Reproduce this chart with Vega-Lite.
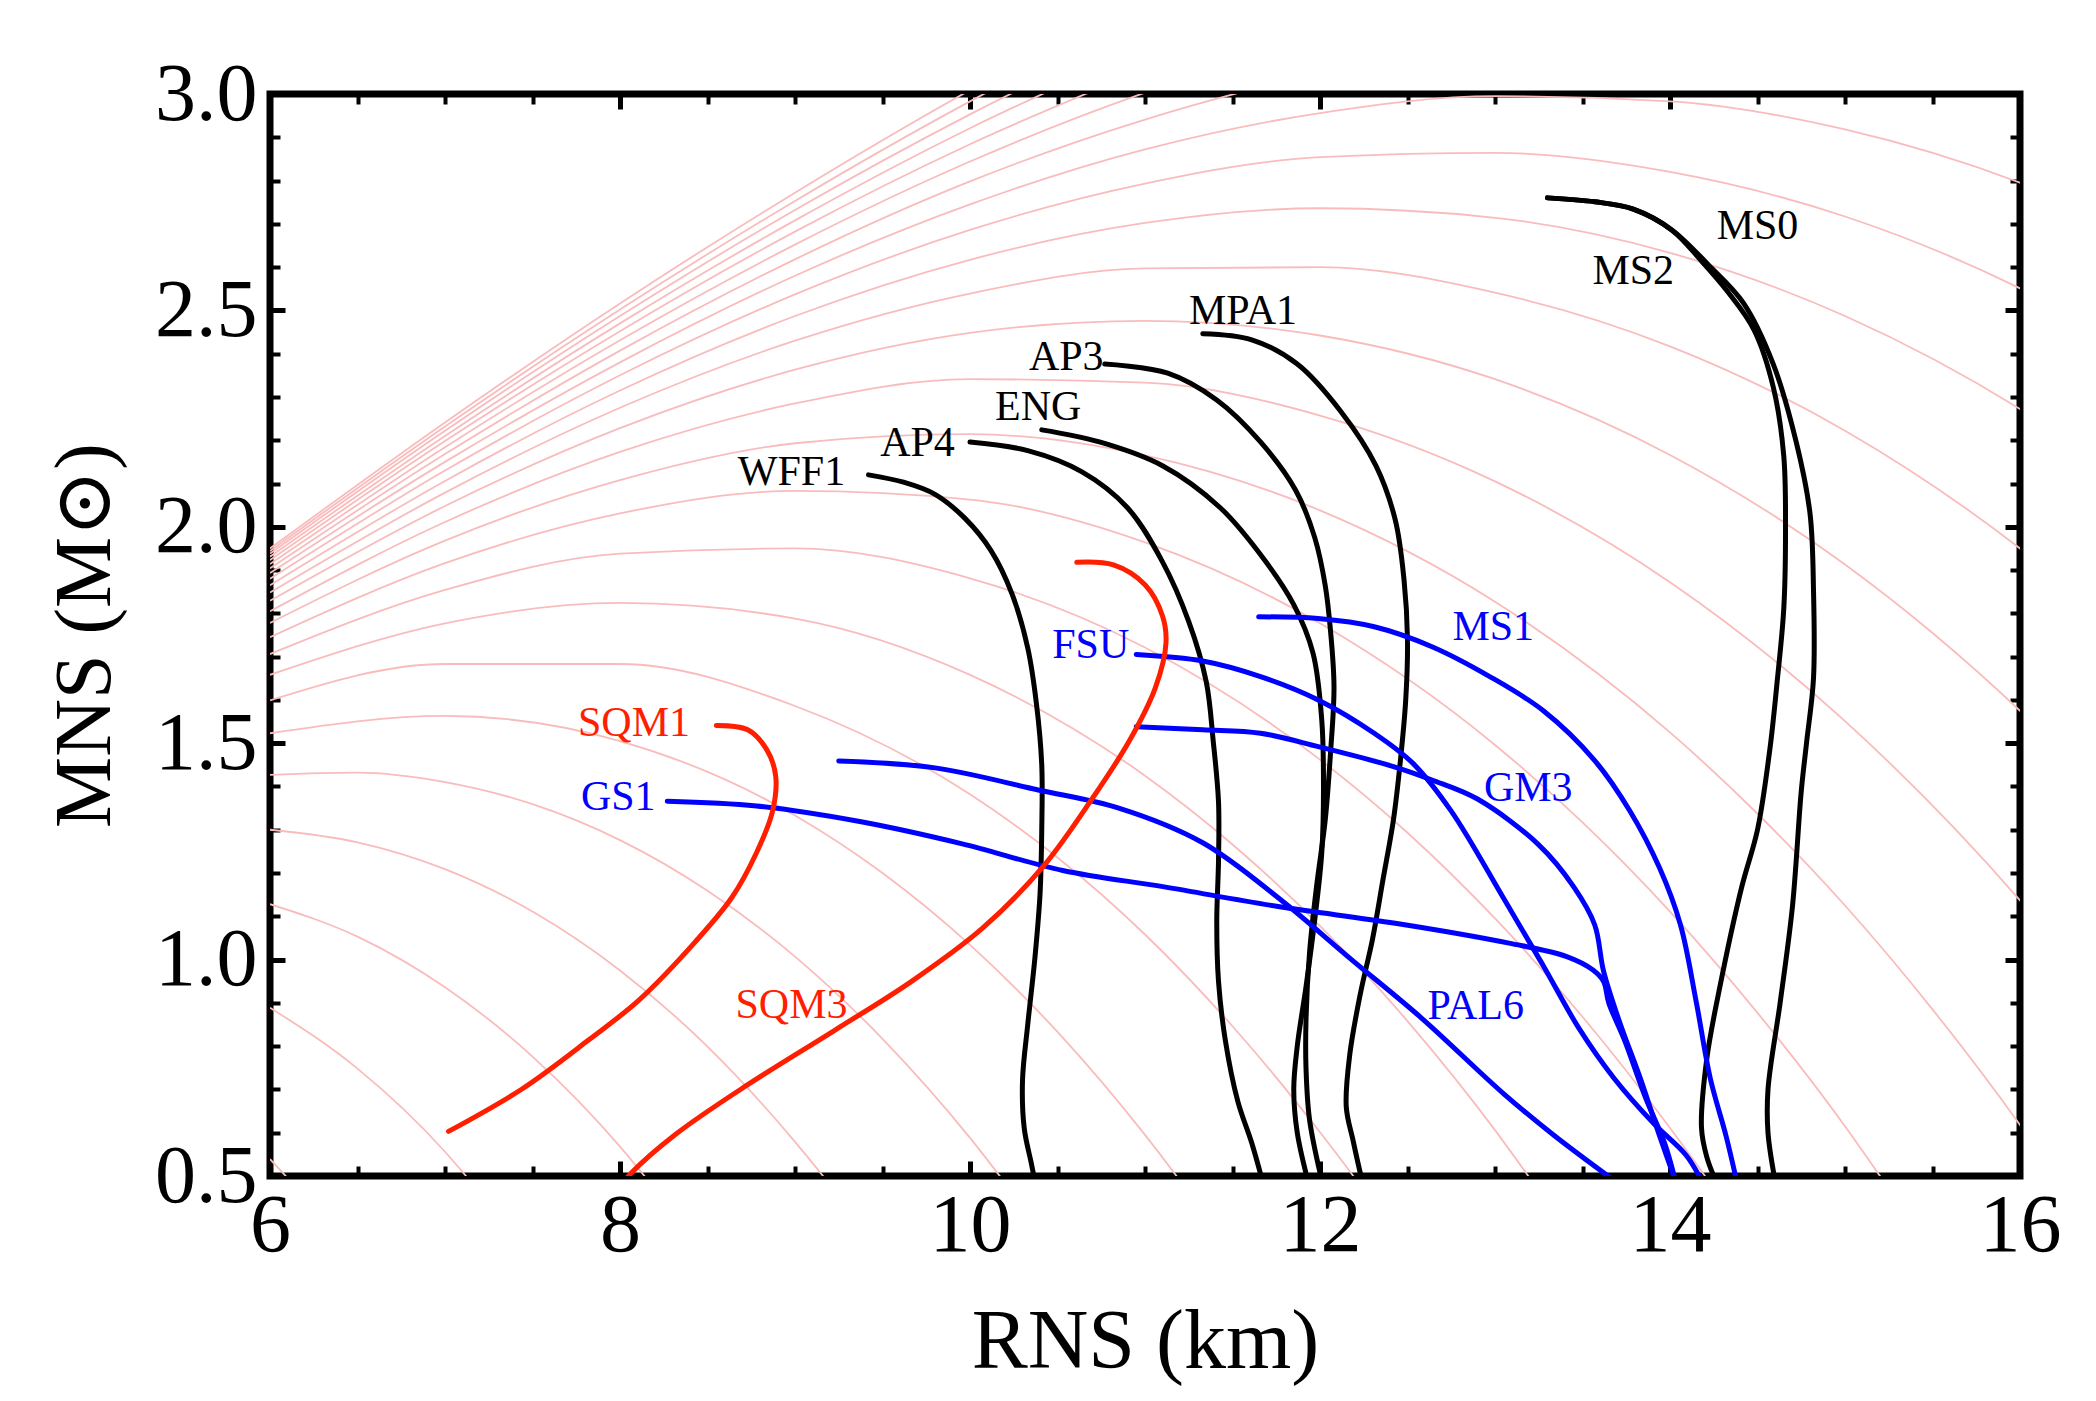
{
"$schema": "https://vega.github.io/schema/vega-lite/v6.json",
"width": 1750, "height": 1082,
"autosize": {"type": "none"},
"padding": {"left": 270, "top": 94, "right": 76, "bottom": 225},
"background": "white",
"config": {"view": {"stroke": "black", "strokeWidth": 7}, "font": "Liberation Serif", "axis": {"grid": false, "domain": false}},
"datasets": {
"rinf": [
{"a":7,"R":6,"M":0.539},{"a":7,"R":6.09,"M":0.5},{"a":7,"R":6.5,"M":0.303},
{"a":8,"R":6,"M":0.889},{"a":8,"R":6.5,"M":0.748},{"a":8,"R":7,"M":0.556},{"a":8,"R":7.12,"M":0.5},{"a":8,"R":7.5,"M":0.307},
{"a":9,"R":6,"M":1.128},{"a":9,"R":6.5,"M":1.053},{"a":9,"R":7,"M":0.936},{"a":9,"R":7.5,"M":0.776},{"a":9,"R":8,"M":0.568},{"a":9,"R":8.14,"M":0.5},{"a":9,"R":8.5,"M":0.311},
{"a":10,"R":6,"M":1.3},{"a":10,"R":6.5,"M":1.271},{"a":10,"R":7,"M":1.209},{"a":10,"R":7.5,"M":1.111},{"a":10,"R":8,"M":0.975},{"a":10,"R":8.5,"M":0.799},{"a":10,"R":9,"M":0.579},{"a":10,"R":9.16,"M":0.5},{"a":10,"R":9.5,"M":0.313},
{"a":11,"R":6,"M":1.427},{"a":11,"R":6.5,"M":1.432},{"a":11,"R":7,"M":1.41},{"a":11,"R":7.5,"M":1.359},{"a":11,"R":8,"M":1.276},{"a":11,"R":8.5,"M":1.159},{"a":11,"R":9,"M":1.007},{"a":11,"R":9.5,"M":0.817},{"a":11,"R":10,"M":0.588},{"a":11,"R":10.17,"M":0.5},{"a":11,"R":10.5,"M":0.316},
{"a":12,"R":6,"M":1.523},{"a":12,"R":7,"M":1.563},{"a":12,"R":8,"M":1.505},{"a":12,"R":9,"M":1.333},{"a":12,"R":9.5,"M":1.2},{"a":12,"R":10,"M":1.034},{"a":12,"R":10.5,"M":0.833},{"a":12,"R":11,"M":0.595},{"a":12,"R":11.18,"M":0.5},{"a":12,"R":11.5,"M":0.318},
{"a":13,"R":6,"M":1.599},{"a":13,"R":7,"M":1.683},{"a":13,"R":8,"M":1.683},{"a":13,"R":9,"M":1.586},{"a":13,"R":10,"M":1.382},{"a":13,"R":10.5,"M":1.236},{"a":13,"R":11,"M":1.058},{"a":13,"R":11.5,"M":0.846},{"a":13,"R":12,"M":0.601},{"a":13,"R":12.19,"M":0.5},{"a":13,"R":12.5,"M":0.319},
{"a":14,"R":6,"M":1.658},{"a":14,"R":7,"M":1.777},{"a":14,"R":8,"M":1.824},{"a":14,"R":9,"M":1.788},{"a":14,"R":10,"M":1.658},{"a":14,"R":11,"M":1.425},{"a":14,"R":11.5,"M":1.266},{"a":14,"R":12,"M":1.078},{"a":14,"R":12.5,"M":0.858},{"a":14,"R":13,"M":0.606},{"a":14,"R":13.19,"M":0.5},{"a":14,"R":13.5,"M":0.321},
{"a":15,"R":6,"M":1.706},{"a":15,"R":7,"M":1.854},{"a":15,"R":8,"M":1.938},{"a":15,"R":9,"M":1.95},{"a":15,"R":10,"M":1.881},{"a":15,"R":11,"M":1.721},{"a":15,"R":12,"M":1.462},{"a":15,"R":12.5,"M":1.293},{"a":15,"R":13,"M":1.095},{"a":15,"R":13.5,"M":0.868},{"a":15,"R":14,"M":0.611},{"a":15,"R":14.2,"M":0.5},{"a":15,"R":14.5,"M":0.322},
{"a":16,"R":6,"M":1.745},{"a":16,"R":7,"M":1.916},{"a":16,"R":8,"M":2.031},{"a":16,"R":9,"M":2.083},{"a":16,"R":10,"M":2.063},{"a":16,"R":11,"M":1.964},{"a":16,"R":12,"M":1.777},{"a":16,"R":13,"M":1.496},{"a":16,"R":13.5,"M":1.317},{"a":16,"R":14,"M":1.111},{"a":16,"R":14.5,"M":0.877},{"a":16,"R":15,"M":0.615},{"a":16,"R":15.2,"M":0.5},{"a":16,"R":15.5,"M":0.323},
{"a":17,"R":6,"M":1.778},{"a":17,"R":7,"M":1.968},{"a":17,"R":8,"M":2.108},{"a":17,"R":9,"M":2.193},{"a":17,"R":10,"M":2.214},{"a":17,"R":11,"M":2.165},{"a":17,"R":12,"M":2.038},{"a":17,"R":13,"M":1.827},{"a":17,"R":14,"M":1.525},{"a":17,"R":14.5,"M":1.337},{"a":17,"R":15,"M":1.125},{"a":17,"R":15.5,"M":0.885},{"a":17,"R":16,"M":0.618},{"a":17,"R":16.5,"M":0.318},
{"a":18,"R":6,"M":1.805},{"a":18,"R":7,"M":2.011},{"a":18,"R":8,"M":2.173},{"a":18,"R":9,"M":2.285},{"a":18,"R":10,"M":2.341},{"a":18,"R":11,"M":2.333},{"a":18,"R":12,"M":2.257},{"a":18,"R":13,"M":2.105},{"a":18,"R":14,"M":1.872},{"a":18,"R":15,"M":1.551},{"a":18,"R":16,"M":1.137},{"a":18,"R":17,"M":0.622},
{"a":19,"R":6,"M":1.829},{"a":19,"R":7,"M":2.048},{"a":19,"R":8,"M":2.228},{"a":19,"R":9,"M":2.363},{"a":19,"R":10,"M":2.448},{"a":19,"R":11,"M":2.476},{"a":19,"R":12,"M":2.442},{"a":19,"R":13,"M":2.341},{"a":19,"R":14,"M":2.166},{"a":19,"R":15,"M":1.913},{"a":19,"R":16,"M":1.575},{"a":19,"R":17,"M":1.148},
{"a":20,"R":6,"M":1.848},{"a":20,"R":7,"M":2.079},{"a":20,"R":8,"M":2.275},{"a":20,"R":9,"M":2.43},{"a":20,"R":10,"M":2.539},{"a":20,"R":11,"M":2.597},{"a":20,"R":12,"M":2.6},{"a":20,"R":13,"M":2.541},{"a":20,"R":14,"M":2.417},{"a":20,"R":15,"M":2.222},{"a":20,"R":16,"M":1.95},{"a":20,"R":17,"M":1.598},
{"a":21,"R":6,"M":1.865},{"a":21,"R":7,"M":2.106},{"a":21,"R":8,"M":2.315},{"a":21,"R":9,"M":2.487},{"a":21,"R":10,"M":2.617},{"a":21,"R":11,"M":2.702},{"a":21,"R":12,"M":2.736},{"a":21,"R":13,"M":2.714},{"a":21,"R":14,"M":2.633},{"a":21,"R":15,"M":2.487},{"a":21,"R":16,"M":2.272},{"a":21,"R":17,"M":1.983},
{"a":22,"R":6,"M":1.88},{"a":22,"R":7,"M":2.13},{"a":22,"R":8,"M":2.35},{"a":22,"R":9,"M":2.537},{"a":22,"R":10,"M":2.686},{"a":22,"R":11,"M":2.793},{"a":22,"R":12,"M":2.854},{"a":22,"R":13,"M":2.864},{"a":22,"R":14,"M":2.82},{"a":22,"R":15,"M":2.717},{"a":22,"R":16,"M":2.551},{"a":22,"R":17,"M":2.319},
{"a":23,"R":6,"M":1.893},{"a":23,"R":7,"M":2.15},{"a":23,"R":8,"M":2.38},{"a":23,"R":9,"M":2.58},{"a":23,"R":10,"M":2.745},{"a":23,"R":11,"M":2.872},{"a":23,"R":12,"M":2.956},{"a":23,"R":13,"M":2.995},{"a":23,"R":14,"M":2.983},{"a":23,"R":15,"M":2.918},{"a":23,"R":16,"M":2.795},{"a":23,"R":17,"M":2.611},
{"a":24,"R":6,"M":1.904},{"a":24,"R":7,"M":2.168},{"a":24,"R":8,"M":2.407},{"a":24,"R":9,"M":2.618},{"a":24,"R":10,"M":2.798},{"a":24,"R":11,"M":2.941},{"a":24,"R":12,"M":3.047},{"a":24,"R":13,"M":3.11},{"a":24,"R":14,"M":3.127},{"a":24,"R":15,"M":3.094},{"a":24,"R":16,"M":3.009},{"a":24,"R":17,"M":2.867},
{"a":25,"R":6,"M":1.914},{"a":25,"R":7,"M":2.184},{"a":25,"R":8,"M":2.431},{"a":25,"R":9,"M":2.652},{"a":25,"R":10,"M":2.844},{"a":25,"R":11,"M":3.003},{"a":25,"R":12,"M":3.126},
{"a":26,"R":6,"M":1.923},{"a":26,"R":7,"M":2.198},{"a":26,"R":8,"M":2.452},{"a":26,"R":9,"M":2.682},{"a":26,"R":10,"M":2.884},{"a":26,"R":11,"M":3.057},
{"a":27,"R":6,"M":1.931},{"a":27,"R":7,"M":2.21},{"a":27,"R":8,"M":2.47},{"a":27,"R":9,"M":2.708},{"a":27,"R":10,"M":2.921},{"a":27,"R":11,"M":3.106},
{"a":28,"R":6,"M":1.938},{"a":28,"R":7,"M":2.222},{"a":28,"R":8,"M":2.487},{"a":28,"R":9,"M":2.732},{"a":28,"R":10,"M":2.953},{"a":28,"R":11,"M":3.149},
{"a":29,"R":6,"M":1.944},{"a":29,"R":7,"M":2.232},{"a":29,"R":8,"M":2.502},{"a":29,"R":9,"M":2.753},{"a":29,"R":10,"M":2.983},{"a":29,"R":11,"M":3.188},
{"a":30,"R":6,"M":1.95},{"a":30,"R":7,"M":2.241},{"a":30,"R":8,"M":2.516},{"a":30,"R":9,"M":2.772},{"a":30,"R":10,"M":3.009},{"a":30,"R":11,"M":3.223}
],
"eos": [
{"n":"WFF1","g":"k","i":0,"R":9.42,"M":2.12},{"n":"WFF1","g":"k","i":1,"R":9.62,"M":2.103},{"n":"WFF1","g":"k","i":2,"R":9.8,"M":2.075},{"n":"WFF1","g":"k","i":3,"R":9.97,"M":2.02},{"n":"WFF1","g":"k","i":4,"R":10.12,"M":1.945},{"n":"WFF1","g":"k","i":5,"R":10.24,"M":1.845},{"n":"WFF1","g":"k","i":6,"R":10.33,"M":1.72},{"n":"WFF1","g":"k","i":7,"R":10.38,"M":1.59},{"n":"WFF1","g":"k","i":8,"R":10.41,"M":1.45},{"n":"WFF1","g":"k","i":9,"R":10.41,"M":1.3},{"n":"WFF1","g":"k","i":10,"R":10.4,"M":1.15},{"n":"WFF1","g":"k","i":11,"R":10.37,"M":1.0},{"n":"WFF1","g":"k","i":12,"R":10.33,"M":0.85},{"n":"WFF1","g":"k","i":13,"R":10.3,"M":0.72},{"n":"WFF1","g":"k","i":14,"R":10.31,"M":0.61},{"n":"WFF1","g":"k","i":15,"R":10.35,"M":0.53},{"n":"WFF1","g":"k","i":16,"R":10.37,"M":0.49},
{"n":"AP4","g":"k","i":0,"R":10.0,"M":2.196},{"n":"AP4","g":"k","i":1,"R":10.33,"M":2.176},{"n":"AP4","g":"k","i":2,"R":10.64,"M":2.127},{"n":"AP4","g":"k","i":3,"R":10.9,"M":2.044},{"n":"AP4","g":"k","i":4,"R":11.1,"M":1.919},{"n":"AP4","g":"k","i":5,"R":11.25,"M":1.781},{"n":"AP4","g":"k","i":6,"R":11.35,"M":1.642},{"n":"AP4","g":"k","i":7,"R":11.39,"M":1.504},{"n":"AP4","g":"k","i":8,"R":11.42,"M":1.365},{"n":"AP4","g":"k","i":9,"R":11.42,"M":1.227},{"n":"AP4","g":"k","i":10,"R":11.41,"M":1.088},{"n":"AP4","g":"k","i":11,"R":11.42,"M":0.95},{"n":"AP4","g":"k","i":12,"R":11.46,"M":0.811},{"n":"AP4","g":"k","i":13,"R":11.53,"M":0.673},{"n":"AP4","g":"k","i":14,"R":11.61,"M":0.576},{"n":"AP4","g":"k","i":15,"R":11.67,"M":0.49},
{"n":"ENG","g":"k","i":0,"R":10.41,"M":2.224},{"n":"ENG","g":"k","i":1,"R":10.74,"M":2.196},{"n":"ENG","g":"k","i":2,"R":11.1,"M":2.141},{"n":"ENG","g":"k","i":3,"R":11.43,"M":2.044},{"n":"ENG","g":"k","i":4,"R":11.68,"M":1.925},{"n":"ENG","g":"k","i":5,"R":11.85,"M":1.82},{"n":"ENG","g":"k","i":6,"R":11.96,"M":1.708},{"n":"ENG","g":"k","i":7,"R":12.01,"M":1.554},{"n":"ENG","g":"k","i":8,"R":12.02,"M":1.399},{"n":"ENG","g":"k","i":9,"R":12.01,"M":1.246},{"n":"ENG","g":"k","i":10,"R":11.97,"M":1.092},{"n":"ENG","g":"k","i":11,"R":11.92,"M":0.937},{"n":"ENG","g":"k","i":12,"R":11.87,"M":0.8},{"n":"ENG","g":"k","i":13,"R":11.85,"M":0.7},{"n":"ENG","g":"k","i":14,"R":11.87,"M":0.6},{"n":"ENG","g":"k","i":15,"R":11.93,"M":0.49},
{"n":"AP3","g":"k","i":0,"R":10.77,"M":2.376},{"n":"AP3","g":"k","i":1,"R":11.13,"M":2.355},{"n":"AP3","g":"k","i":2,"R":11.41,"M":2.293},{"n":"AP3","g":"k","i":3,"R":11.66,"M":2.196},{"n":"AP3","g":"k","i":4,"R":11.86,"M":2.085},{"n":"AP3","g":"k","i":5,"R":11.97,"M":1.975},{"n":"AP3","g":"k","i":6,"R":12.03,"M":1.864},{"n":"AP3","g":"k","i":7,"R":12.06,"M":1.76},{"n":"AP3","g":"k","i":8,"R":12.08,"M":1.63},{"n":"AP3","g":"k","i":9,"R":12.06,"M":1.477},{"n":"AP3","g":"k","i":10,"R":12.03,"M":1.323},{"n":"AP3","g":"k","i":11,"R":11.98,"M":1.168},{"n":"AP3","g":"k","i":12,"R":11.94,"M":1.015},{"n":"AP3","g":"k","i":13,"R":11.92,"M":0.86},{"n":"AP3","g":"k","i":14,"R":11.92,"M":0.75},{"n":"AP3","g":"k","i":15,"R":11.94,"M":0.631},{"n":"AP3","g":"k","i":16,"R":12.01,"M":0.49},
{"n":"MPA1","g":"k","i":0,"R":11.33,"M":2.446},{"n":"MPA1","g":"k","i":1,"R":11.61,"M":2.432},{"n":"MPA1","g":"k","i":2,"R":11.87,"M":2.376},{"n":"MPA1","g":"k","i":3,"R":12.12,"M":2.266},{"n":"MPA1","g":"k","i":4,"R":12.32,"M":2.141},{"n":"MPA1","g":"k","i":5,"R":12.43,"M":2.016},{"n":"MPA1","g":"k","i":6,"R":12.48,"M":1.878},{"n":"MPA1","g":"k","i":7,"R":12.5,"M":1.739},{"n":"MPA1","g":"k","i":8,"R":12.49,"M":1.601},{"n":"MPA1","g":"k","i":9,"R":12.46,"M":1.462},{"n":"MPA1","g":"k","i":10,"R":12.42,"M":1.324},{"n":"MPA1","g":"k","i":11,"R":12.36,"M":1.185},{"n":"MPA1","g":"k","i":12,"R":12.3,"M":1.047},{"n":"MPA1","g":"k","i":13,"R":12.23,"M":0.92},{"n":"MPA1","g":"k","i":14,"R":12.17,"M":0.78},{"n":"MPA1","g":"k","i":15,"R":12.15,"M":0.66},{"n":"MPA1","g":"k","i":16,"R":12.19,"M":0.58},{"n":"MPA1","g":"k","i":17,"R":12.24,"M":0.49},
{"n":"MS0","g":"k","i":0,"R":13.3,"M":2.76},{"n":"MS0","g":"k","i":1,"R":13.57,"M":2.751},{"n":"MS0","g":"k","i":2,"R":13.79,"M":2.734},{"n":"MS0","g":"k","i":3,"R":14.01,"M":2.686},{"n":"MS0","g":"k","i":4,"R":14.22,"M":2.605},{"n":"MS0","g":"k","i":5,"R":14.42,"M":2.517},{"n":"MS0","g":"k","i":6,"R":14.59,"M":2.376},{"n":"MS0","g":"k","i":7,"R":14.72,"M":2.198},{"n":"MS0","g":"k","i":8,"R":14.8,"M":2.031},{"n":"MS0","g":"k","i":9,"R":14.82,"M":1.854},{"n":"MS0","g":"k","i":10,"R":14.82,"M":1.65},{"n":"MS0","g":"k","i":11,"R":14.78,"M":1.5},{"n":"MS0","g":"k","i":12,"R":14.75,"M":1.389},{"n":"MS0","g":"k","i":13,"R":14.7,"M":1.124},{"n":"MS0","g":"k","i":14,"R":14.63,"M":0.902},{"n":"MS0","g":"k","i":15,"R":14.56,"M":0.7},{"n":"MS0","g":"k","i":16,"R":14.56,"M":0.6},{"n":"MS0","g":"k","i":17,"R":14.6,"M":0.49},
{"n":"MS2","g":"k","i":0,"R":13.3,"M":2.76},{"n":"MS2","g":"k","i":1,"R":13.57,"M":2.751},{"n":"MS2","g":"k","i":2,"R":13.79,"M":2.734},{"n":"MS2","g":"k","i":3,"R":14.01,"M":2.686},{"n":"MS2","g":"k","i":4,"R":14.18,"M":2.614},{"n":"MS2","g":"k","i":5,"R":14.33,"M":2.543},{"n":"MS2","g":"k","i":6,"R":14.48,"M":2.455},{"n":"MS2","g":"k","i":7,"R":14.59,"M":2.323},{"n":"MS2","g":"k","i":8,"R":14.65,"M":2.164},{"n":"MS2","g":"k","i":9,"R":14.66,"M":1.986},{"n":"MS2","g":"k","i":10,"R":14.65,"M":1.81},{"n":"MS2","g":"k","i":11,"R":14.61,"M":1.633},{"n":"MS2","g":"k","i":12,"R":14.57,"M":1.484},{"n":"MS2","g":"k","i":13,"R":14.5,"M":1.3},{"n":"MS2","g":"k","i":14,"R":14.41,"M":1.168},{"n":"MS2","g":"k","i":15,"R":14.29,"M":0.947},{"n":"MS2","g":"k","i":16,"R":14.21,"M":0.77},{"n":"MS2","g":"k","i":17,"R":14.18,"M":0.611},{"n":"MS2","g":"k","i":18,"R":14.21,"M":0.544},{"n":"MS2","g":"k","i":19,"R":14.26,"M":0.49},
{"n":"FSU","g":"b","i":0,"R":10.95,"M":1.705},{"n":"FSU","g":"b","i":1,"R":11.33,"M":1.69},{"n":"FSU","g":"b","i":2,"R":11.66,"M":1.654},{"n":"FSU","g":"b","i":3,"R":11.99,"M":1.6},{"n":"FSU","g":"b","i":4,"R":12.31,"M":1.523},{"n":"FSU","g":"b","i":5,"R":12.53,"M":1.454},{"n":"FSU","g":"b","i":6,"R":12.75,"M":1.343},{"n":"FSU","g":"b","i":7,"R":13.05,"M":1.141},{"n":"FSU","g":"b","i":8,"R":13.28,"M":0.983},{"n":"FSU","g":"b","i":9,"R":13.48,"M":0.841},{"n":"FSU","g":"b","i":10,"R":13.68,"M":0.726},{"n":"FSU","g":"b","i":11,"R":13.91,"M":0.62},{"n":"FSU","g":"b","i":12,"R":14.09,"M":0.549},{"n":"FSU","g":"b","i":13,"R":14.18,"M":0.49},
{"n":"MS1","g":"b","i":0,"R":11.65,"M":1.792},{"n":"MS1","g":"b","i":1,"R":11.99,"M":1.788},{"n":"MS1","g":"b","i":2,"R":12.31,"M":1.769},{"n":"MS1","g":"b","i":3,"R":12.64,"M":1.723},{"n":"MS1","g":"b","i":4,"R":12.97,"M":1.654},{"n":"MS1","g":"b","i":5,"R":13.28,"M":1.574},{"n":"MS1","g":"b","i":6,"R":13.57,"M":1.46},{"n":"MS1","g":"b","i":7,"R":13.77,"M":1.344},{"n":"MS1","g":"b","i":8,"R":13.94,"M":1.212},{"n":"MS1","g":"b","i":9,"R":14.06,"M":1.08},{"n":"MS1","g":"b","i":10,"R":14.15,"M":0.902},{"n":"MS1","g":"b","i":11,"R":14.23,"M":0.726},{"n":"MS1","g":"b","i":12,"R":14.32,"M":0.593},{"n":"MS1","g":"b","i":13,"R":14.38,"M":0.49},
{"n":"GM3","g":"b","i":0,"R":10.95,"M":1.538},{"n":"GM3","g":"b","i":1,"R":11.33,"M":1.531},{"n":"GM3","g":"b","i":2,"R":11.66,"M":1.523},{"n":"GM3","g":"b","i":3,"R":11.99,"M":1.492},{"n":"GM3","g":"b","i":4,"R":12.42,"M":1.446},{"n":"GM3","g":"b","i":5,"R":12.64,"M":1.415},{"n":"GM3","g":"b","i":6,"R":12.9,"M":1.371},{"n":"GM3","g":"b","i":7,"R":13.25,"M":1.265},{"n":"GM3","g":"b","i":8,"R":13.45,"M":1.168},{"n":"GM3","g":"b","i":9,"R":13.57,"M":1.08},{"n":"GM3","g":"b","i":10,"R":13.62,"M":0.974},{"n":"GM3","g":"b","i":11,"R":13.71,"M":0.858},{"n":"GM3","g":"b","i":12,"R":13.83,"M":0.726},{"n":"GM3","g":"b","i":13,"R":13.94,"M":0.593},{"n":"GM3","g":"b","i":14,"R":14.03,"M":0.49},
{"n":"GS1","g":"b","i":0,"R":8.27,"M":1.366},{"n":"GS1","g":"b","i":1,"R":8.78,"M":1.355},{"n":"GS1","g":"b","i":2,"R":9.37,"M":1.319},{"n":"GS1","g":"b","i":3,"R":9.95,"M":1.268},{"n":"GS1","g":"b","i":4,"R":10.53,"M":1.206},{"n":"GS1","g":"b","i":5,"R":11.11,"M":1.168},{"n":"GS1","g":"b","i":6,"R":11.77,"M":1.122},{"n":"GS1","g":"b","i":7,"R":12.43,"M":1.084},{"n":"GS1","g":"b","i":8,"R":13.08,"M":1.038},{"n":"GS1","g":"b","i":9,"R":13.41,"M":1.007},{"n":"GS1","g":"b","i":10,"R":13.56,"M":0.976},{"n":"GS1","g":"b","i":11,"R":13.62,"M":0.95},{"n":"GS1","g":"b","i":12,"R":13.65,"M":0.9},{"n":"GS1","g":"b","i":13,"R":13.74,"M":0.814},{"n":"GS1","g":"b","i":14,"R":13.86,"M":0.681},{"n":"GS1","g":"b","i":15,"R":13.97,"M":0.575},{"n":"GS1","g":"b","i":16,"R":14.03,"M":0.49},
{"n":"PAL6","g":"b","i":0,"R":9.25,"M":1.459},{"n":"PAL6","g":"b","i":1,"R":9.8,"M":1.443},{"n":"PAL6","g":"b","i":2,"R":10.39,"M":1.392},{"n":"PAL6","g":"b","i":3,"R":10.85,"M":1.35},{"n":"PAL6","g":"b","i":4,"R":11.33,"M":1.27},{"n":"PAL6","g":"b","i":5,"R":11.77,"M":1.14},{"n":"PAL6","g":"b","i":6,"R":12.18,"M":1.0},{"n":"PAL6","g":"b","i":7,"R":12.58,"M":0.865},{"n":"PAL6","g":"b","i":8,"R":13.05,"M":0.69},{"n":"PAL6","g":"b","i":9,"R":13.34,"M":0.593},{"n":"PAL6","g":"b","i":10,"R":13.68,"M":0.49},
{"n":"SQM1","g":"r","i":0,"R":8.55,"M":1.541},{"n":"SQM1","g":"r","i":1,"R":8.73,"M":1.531},{"n":"SQM1","g":"r","i":2,"R":8.84,"M":1.484},{"n":"SQM1","g":"r","i":3,"R":8.89,"M":1.423},{"n":"SQM1","g":"r","i":4,"R":8.87,"M":1.34},{"n":"SQM1","g":"r","i":5,"R":8.78,"M":1.247},{"n":"SQM1","g":"r","i":6,"R":8.64,"M":1.144},{"n":"SQM1","g":"r","i":7,"R":8.43,"M":1.041},{"n":"SQM1","g":"r","i":8,"R":8.11,"M":0.907},{"n":"SQM1","g":"r","i":9,"R":7.82,"M":0.814},{"n":"SQM1","g":"r","i":10,"R":7.44,"M":0.701},{"n":"SQM1","g":"r","i":11,"R":7.02,"M":0.603},
{"n":"SQM3","g":"r","i":0,"R":10.61,"M":1.918},{"n":"SQM3","g":"r","i":1,"R":10.82,"M":1.912},{"n":"SQM3","g":"r","i":2,"R":11.0,"M":1.866},{"n":"SQM3","g":"r","i":3,"R":11.1,"M":1.794},{"n":"SQM3","g":"r","i":4,"R":11.12,"M":1.732},{"n":"SQM3","g":"r","i":5,"R":11.06,"M":1.629},{"n":"SQM3","g":"r","i":6,"R":10.91,"M":1.505},{"n":"SQM3","g":"r","i":7,"R":10.68,"M":1.361},{"n":"SQM3","g":"r","i":8,"R":10.42,"M":1.216},{"n":"SQM3","g":"r","i":9,"R":10.07,"M":1.072},{"n":"SQM3","g":"r","i":10,"R":9.66,"M":0.948},{"n":"SQM3","g":"r","i":11,"R":9.22,"M":0.835},{"n":"SQM3","g":"r","i":12,"R":8.73,"M":0.711},{"n":"SQM3","g":"r","i":13,"R":8.32,"M":0.597},{"n":"SQM3","g":"r","i":14,"R":8.06,"M":0.505},{"n":"SQM3","g":"r","i":15,"R":8.03,"M":0.49}
],
"labels": [
{"n":"WFF1","g":"k","R":8.98,"M":2.127},{"n":"AP4","g":"k","R":9.7,"M":2.193},{"n":"ENG","g":"k","R":10.39,"M":2.277},{"n":"AP3","g":"k","R":10.55,"M":2.393},{"n":"MPA1","g":"k","R":11.56,"M":2.498},{"n":"MS2","g":"k","R":13.79,"M":2.592},{"n":"MS0","g":"k","R":14.5,"M":2.694},
{"n":"FSU","g":"b","R":10.69,"M":1.727},{"n":"MS1","g":"b","R":12.99,"M":1.769},{"n":"GM3","g":"b","R":13.19,"M":1.396},{"n":"PAL6","g":"b","R":12.89,"M":0.893},{"n":"GS1","g":"b","R":7.99,"M":1.376},
{"n":"SQM1","g":"r","R":8.08,"M":1.546},{"n":"SQM3","g":"r","R":8.98,"M":0.894}
]
},
"layer": [
{
"encoding": {
"x": {"field": "R", "type": "quantitative", "scale": {"domain": [6, 16], "nice": false, "zero": false},
 "axis": {"orient": "bottom", "values": [6,6.5,7,7.5,8,8.5,9,9.5,10,10.5,11,11.5,12,12.5,13,13.5,14,14.5,15,15.5,16],
  "labelExpr": "datum.value % 2 === 0 ? format(datum.value, 'd') : ''",
  "title": "RNS (km)", "titleFont": "Liberation Serif", "titleFontSize": 84, "titleFontWeight": "normal", "titleColor": "black", "titlePadding": 30,
  "labelFont": "Liberation Serif", "labelFontSize": 82, "labelColor": "black", "labelPadding": 24, "labelFlush": false, "labelOverlap": false, "labelBound": false,
  "tickColor": "black",
  "tickSize": {"condition": {"test": "datum.value % 2 === 0", "value": -15}, "value": -10},
  "tickWidth": {"condition": {"test": "datum.value % 2 === 0", "value": 5}, "value": 4},
  "domain": false, "grid": false}},
"y": {"field": "M", "type": "quantitative", "scale": {"domain": [0.5, 3.0], "nice": false, "zero": false},
 "axis": {"orient": "left", "values": [0.5,0.6,0.7,0.8,0.9,1.0,1.1,1.2,1.3,1.4,1.5,1.6,1.7,1.8,1.9,2.0,2.1,2.2,2.3,2.4,2.5,2.6,2.7,2.8,2.9,3.0],
  "labelExpr": "abs(datum.value*2 - round(datum.value*2)) < 0.01 ? format(datum.value, '.1f') : ''",
  "title": "MNS (M⊙)", "titleFont": "Liberation Serif, DejaVu Serif", "titleFontSize": 80, "titleFontWeight": "normal", "titleColor": "black", "titlePadding": 28,
  "labelFont": "Liberation Serif", "labelFontSize": 82, "labelColor": "black", "labelPadding": 28, "labelOverlap": false, "labelFlush": false, "labelBound": false,
  "tickColor": "black",
  "tickSize": {"condition": {"test": "abs(datum.value*2 - round(datum.value*2)) < 0.01", "value": -15}, "value": -10},
  "tickWidth": {"condition": {"test": "abs(datum.value*2 - round(datum.value*2)) < 0.01", "value": 5}, "value": 4},
  "domain": false, "grid": false}}
},
"layer": [
{"data": {"name": "rinf"}, "mark": {"type": "line", "clip": true, "interpolate": "monotone", "stroke": "#f9bcbc", "strokeWidth": 1.8},
 "encoding": {"detail": {"field": "a", "type": "nominal"}}},
{"data": {"name": "eos"}, "mark": {"type": "line", "clip": true, "interpolate": "catmull-rom", "strokeWidth": 5, "strokeCap": "round", "strokeJoin": "round"},
 "encoding": {"detail": {"field": "n", "type": "nominal"}, "order": {"field": "i", "type": "quantitative"},
  "color": {"field": "g", "type": "nominal", "scale": {"domain": ["k", "b", "r"], "range": ["#000000", "#0000ff", "#ff1e00"]}, "legend": null}}},
{"data": {"name": "labels"}, "mark": {"type": "text", "font": "Liberation Serif", "fontSize": 42, "align": "center", "baseline": "middle"},
 "encoding": {"text": {"field": "n", "type": "nominal"},
  "color": {"field": "g", "type": "nominal", "scale": {"domain": ["k", "b", "r"], "range": ["#000000", "#0000ff", "#ff1e00"]}, "legend": null}}}
]
},
{
"data": {"values": [{"R": 6, "M": 0.5}]},
"mark": {"type": "point", "opacity": 0},
"encoding": {
"x": {"field": "R", "type": "quantitative",
 "axis": {"orient": "top", "values": [6,6.5,7,7.5,8,8.5,9,9.5,10,10.5,11,11.5,12,12.5,13,13.5,14,14.5,15,15.5,16], "labels": false, "title": null, "offset": 0,
  "tickColor": "black",
  "tickSize": {"condition": {"test": "datum.value % 2 === 0", "value": -15}, "value": -10},
  "tickWidth": {"condition": {"test": "datum.value % 2 === 0", "value": 5}, "value": 4},
  "domain": false, "grid": false}},
"y": {"field": "M", "type": "quantitative",
 "axis": {"orient": "right", "values": [0.5,0.6,0.7,0.8,0.9,1.0,1.1,1.2,1.3,1.4,1.5,1.6,1.7,1.8,1.9,2.0,2.1,2.2,2.3,2.4,2.5,2.6,2.7,2.8,2.9,3.0], "labels": false, "title": null, "offset": 0,
  "tickColor": "black",
  "tickSize": {"condition": {"test": "abs(datum.value*2 - round(datum.value*2)) < 0.01", "value": -15}, "value": -10},
  "tickWidth": {"condition": {"test": "abs(datum.value*2 - round(datum.value*2)) < 0.01", "value": 5}, "value": 4},
  "domain": false, "grid": false}}
}
}
],
"resolve": {"axis": {"x": "independent", "y": "independent"}}
}
